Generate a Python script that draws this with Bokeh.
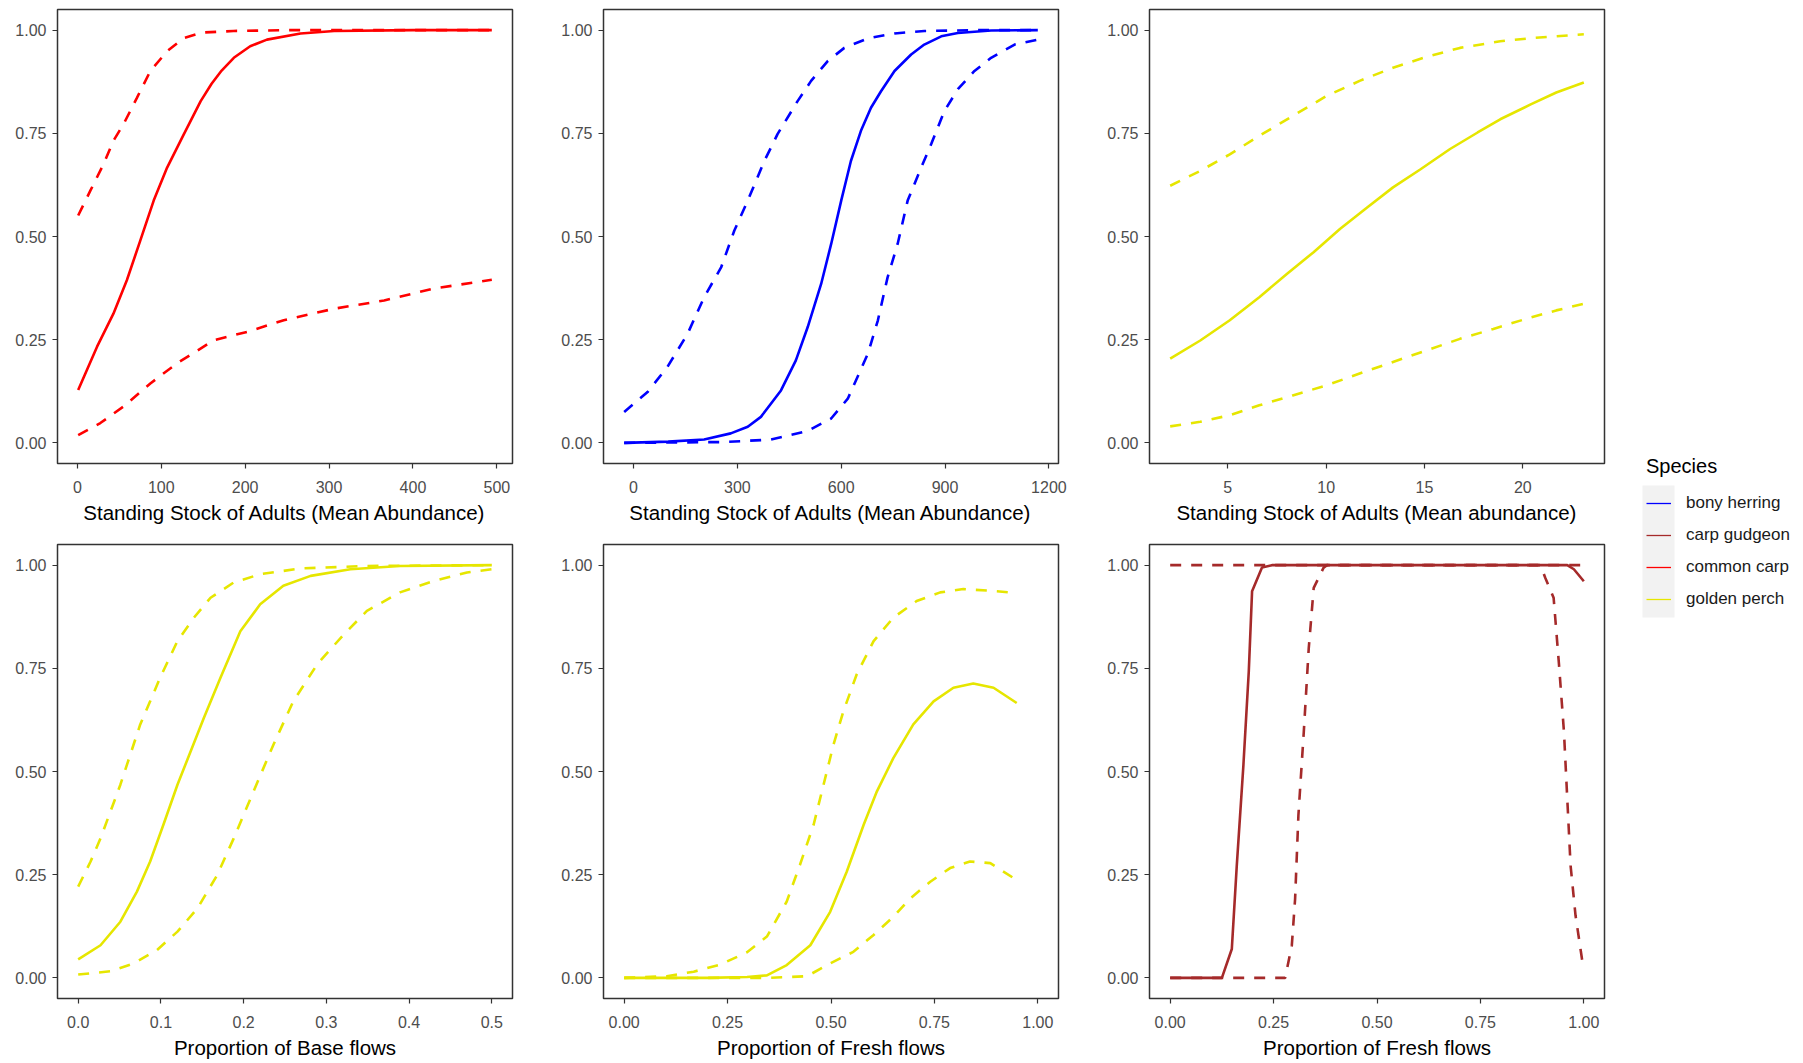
from bokeh.plotting import figure
from bokeh.layouts import row, column
from bokeh.models import (Range1d, FixedTicker, NumeralTickFormatter, Legend,
                          LegendItem, BoxAnnotation)
from bokeh.embed import file_html
from bokeh.resources import INLINE

# ---------------------------------------------------------------------------
# Species and colours
species = ["bony herring", "carp gudgeon", "common carp", "golden perch"]
species_colors = ["#0000FF", "#A52A2A", "#FF0000", "#E6E600"]

# ---------------------------------------------------------------------------
# Common carp vs standing stock of adults (fit, lower and upper bounds)
carp_fit_x = [1, 23.5, 43, 59, 75, 91, 107, 127, 147, 160, 172, 186.5, 206, 226, 266, 306, 400, 494]
carp_fit_y = [0.128, 0.233, 0.313, 0.394, 0.49, 0.587, 0.667, 0.748, 0.828, 0.87, 0.902, 0.933,
              0.961, 0.977, 0.992, 0.998, 1.0, 1.0]
carp_up_x = [1, 15.5, 31.4, 43, 55, 71, 87, 107, 127, 148, 186, 250, 494]
carp_up_y = [0.551, 0.611, 0.676, 0.732, 0.772, 0.836, 0.901, 0.949, 0.981, 0.994, 0.998, 1.0, 1.0]
carp_lo_x = [1, 27.4, 55, 87, 119, 163, 202.5, 246, 306, 365.6, 425, 494]
carp_lo_y = [0.019, 0.048, 0.088, 0.144, 0.193, 0.249, 0.269, 0.297, 0.325, 0.345, 0.374, 0.395]

# Bony herring vs standing stock of adults
herring_fit_x = [-27, 100, 204, 281, 330, 368, 426, 469, 503, 542, 571, 600, 628, 657, 686, 715,
                 754, 802, 840, 889, 937, 1033, 1168]
herring_fit_y = [0, 0.003, 0.008, 0.023, 0.039, 0.063, 0.127, 0.2, 0.28, 0.385, 0.482, 0.587,
                 0.683, 0.756, 0.812, 0.852, 0.901, 0.941, 0.965, 0.985, 0.993, 0.999, 1.0]
herring_up_x = [-27, 40.5, 98, 156, 204, 253, 291, 330, 378, 416, 474, 513, 561, 609, 677, 754,
                840, 1000, 1168]
herring_up_y = [0.075, 0.123, 0.184, 0.264, 0.353, 0.425, 0.514, 0.587, 0.683, 0.748, 0.828,
                0.877, 0.925, 0.957, 0.98, 0.992, 0.998, 1.0, 1.0]
herring_lo_x = [-27, 262, 397, 503, 571, 619, 677, 706, 734, 763, 792, 831, 860, 898, 937, 985,
                1033, 1101, 1168]
herring_lo_y = [0, 0.002, 0.008, 0.029, 0.059, 0.107, 0.216, 0.297, 0.401, 0.482, 0.587, 0.667,
                0.724, 0.804, 0.857, 0.901, 0.933, 0.965, 0.977]

# Golden perch vs standing stock of adults
perch_stock_fit_x = [2.07, 3.6, 5.1, 6.6, 8.0, 9.36, 10.7, 12.1, 13.4, 14.8, 16.3, 17.7, 18.85,
                     20.4, 21.7, 23.1]
perch_stock_fit_y = [0.204, 0.248, 0.297, 0.353, 0.409, 0.462, 0.518, 0.571, 0.619, 0.663, 0.712,
                     0.752, 0.784, 0.82, 0.849, 0.873]
perch_stock_up_x = [2.07, 3.6, 5.1, 6.6, 8.3, 10.0, 11.7, 13.4, 14.95, 16.8, 18.85, 20.5, 23.1]
perch_stock_up_y = [0.623, 0.659, 0.699, 0.744, 0.792, 0.84, 0.877, 0.909, 0.933, 0.957, 0.973,
                    0.981, 0.99]
perch_stock_lo_x = [2.07, 3.6, 5.1, 6.6, 8.3, 10.0, 11.7, 13.4, 15.1, 16.8, 18.5, 20.2, 21.7, 23.1]
perch_stock_lo_y = [0.04, 0.051, 0.067, 0.091, 0.115, 0.139, 0.168, 0.196, 0.224, 0.252, 0.276,
                    0.301, 0.321, 0.337]

# Golden perch vs proportion of base flows
perch_base_fit_x = [0, 0.027, 0.051, 0.071, 0.087, 0.103, 0.12, 0.136, 0.152, 0.172, 0.196, 0.22,
                    0.248, 0.281, 0.329, 0.389, 0.5]
perch_base_fit_y = [0.045, 0.079, 0.136, 0.209, 0.282, 0.371, 0.468, 0.549, 0.63, 0.727, 0.84,
                    0.905, 0.95, 0.974, 0.99, 0.998, 1.0]
perch_base_up_x = [0, 0.015, 0.027, 0.039, 0.051, 0.063, 0.075, 0.087, 0.099, 0.12, 0.14, 0.16,
                   0.188, 0.22, 0.269, 0.349, 0.5]
perch_base_up_y = [0.221, 0.282, 0.338, 0.403, 0.468, 0.541, 0.614, 0.67, 0.727, 0.816, 0.873,
                   0.921, 0.958, 0.978, 0.992, 0.998, 1.0]
perch_base_lo_x = [0, 0.039, 0.067, 0.095, 0.12, 0.144, 0.168, 0.188, 0.212, 0.236, 0.26, 0.289,
                   0.321, 0.349, 0.389, 0.43, 0.47, 0.5]
perch_base_lo_y = [0.008, 0.016, 0.035, 0.067, 0.112, 0.168, 0.249, 0.338, 0.452, 0.565, 0.67,
                   0.76, 0.832, 0.889, 0.934, 0.962, 0.982, 0.99]

# Golden perch vs proportion of fresh flows
perch_fresh_fit_x = [0, 0.1, 0.2, 0.297, 0.345, 0.393, 0.45, 0.498, 0.538, 0.579, 0.611, 0.651,
                     0.699, 0.748, 0.796, 0.844, 0.893, 0.949]
perch_fresh_fit_y = [0, 0, 0, 0.002, 0.006, 0.031, 0.079, 0.16, 0.257, 0.371, 0.452, 0.533, 0.614,
                     0.67, 0.703, 0.713, 0.703, 0.666]
perch_fresh_up_x = [0, 0.103, 0.168, 0.232, 0.297, 0.345, 0.393, 0.425, 0.458, 0.482, 0.506, 0.53,
                    0.562, 0.603, 0.651, 0.707, 0.764, 0.82, 0.885, 0.933]
perch_fresh_up_y = [0, 0.004, 0.015, 0.032, 0.062, 0.1, 0.185, 0.274, 0.371, 0.468, 0.565, 0.646,
                    0.735, 0.816, 0.873, 0.913, 0.934, 0.942, 0.938, 0.934]
perch_fresh_lo_x = [0, 0.2, 0.35, 0.442, 0.498, 0.554, 0.603, 0.651, 0.691, 0.74, 0.788, 0.836,
                    0.885, 0.949]
perch_fresh_lo_y = [0, 0, 0, 0.004, 0.035, 0.063, 0.104, 0.148, 0.192, 0.233, 0.266, 0.282, 0.278,
                    0.237]

# Carp gudgeon vs proportion of fresh flows
gudgeon_fit_x = [0, 0.125, 0.149, 0.161, 0.177, 0.19, 0.198, 0.222, 0.246, 0.5, 0.96, 0.976, 1.0]
gudgeon_fit_y = [0, 0, 0.07, 0.272, 0.515, 0.742, 0.937, 0.994, 1.0, 1.0, 1.0, 0.99, 0.961]
gudgeon_up_x = [0, 0.25, 0.5, 0.75, 1.0]
gudgeon_up_y = [1.0, 1.0, 1.0, 1.0, 1.0]
gudgeon_lo_x = [0, 0.278, 0.294, 0.302, 0.31, 0.323, 0.335, 0.347, 0.371, 0.379, 0.6, 0.895,
                0.907, 0.927, 0.94, 0.952, 0.96, 0.968, 0.98, 0.992, 0.998]
gudgeon_lo_y = [0, 0, 0.078, 0.191, 0.394, 0.596, 0.799, 0.945, 0.994, 1.0, 1.0, 1.0, 0.969,
                0.921, 0.759, 0.596, 0.434, 0.272, 0.151, 0.07, 0.029]

# Axis ticks
y_ticks = [0, 0.25, 0.5, 0.75, 1.0]
stock_carp_ticks = [0, 100, 200, 300, 400, 500]
stock_herring_ticks = [0, 300, 600, 900, 1200]
stock_perch_ticks = [5, 10, 15, 20]
base_ticks = [0, 0.1, 0.2, 0.3, 0.4, 0.5]
fresh_ticks = [0, 0.25, 0.5, 0.75, 1.0]

FONT = "Liberation Sans"
COL = dict(zip(species, species_colors))
LW = 2.6


def expand(xs):
    lo, hi = min(xs), max(xs)
    pad = 0.05 * (hi - lo)
    return lo - pad, hi + pad


def panel(xlabel, ticks, fmt, color, fit, up, lo, xlim=None, bottom=72):
    all_x = fit[0] + up[0] + lo[0]
    x0, x1 = xlim if xlim else expand(all_x)
    p = figure(frame_width=455, frame_height=454,
               x_range=Range1d(x0, x1), y_range=Range1d(-0.05, 1.05),
               min_border_left=57, min_border_right=34,
               min_border_top=9, min_border_bottom=bottom,
               output_backend="svg", toolbar_location=None)
    p.grid.visible = False
    p.outline_line_color = "#333333"
    p.outline_line_width = 1.5
    p.outline_line_alpha = 1.0
    p.background_fill_color = "white"
    p.border_fill_color = "white"

    p.xaxis.ticker = FixedTicker(ticks=ticks)
    p.yaxis.ticker = FixedTicker(ticks=y_ticks)
    p.xaxis.formatter = NumeralTickFormatter(format=fmt)
    p.yaxis.formatter = NumeralTickFormatter(format="0.00")
    for ax in p.axis:
        ax.axis_line_color = None
        ax.major_tick_line_color = "#333333"
        ax.major_tick_line_width = 1.2
        ax.major_tick_out = 5
        ax.major_tick_in = 0
        ax.minor_tick_line_color = None
        ax.major_label_text_font = FONT
        ax.major_label_text_font_size = "16px"
        ax.major_label_text_color = "#4D4D4D"
    p.xaxis.major_label_standoff = 12
    p.yaxis.major_label_standoff = 6
    p.xaxis.axis_label = xlabel
    p.xaxis.axis_label_text_font = FONT
    p.xaxis.axis_label_text_font_size = "20.5px"
    p.xaxis.axis_label_text_font_style = "normal"
    p.xaxis.axis_label_text_color = "black"
    p.xaxis.axis_label_standoff = 5

    p.line(fit[0], fit[1], line_color=color, line_width=LW)
    for xs, ys in (up, lo):
        p.line(xs, ys, line_color=color, line_width=LW, line_dash="11 10")
    return p


p1 = panel("Standing Stock of Adults (Mean Abundance)", stock_carp_ticks, "0", COL["common carp"],
           (carp_fit_x, carp_fit_y), (carp_up_x, carp_up_y), (carp_lo_x, carp_lo_y))
p2 = panel("Standing Stock of Adults (Mean Abundance)", stock_herring_ticks, "0", COL["bony herring"],
           (herring_fit_x, herring_fit_y), (herring_up_x, herring_up_y), (herring_lo_x, herring_lo_y))
p3 = panel("Standing Stock of Adults (Mean abundance)", stock_perch_ticks, "0", COL["golden perch"],
           (perch_stock_fit_x, perch_stock_fit_y), (perch_stock_up_x, perch_stock_up_y),
           (perch_stock_lo_x, perch_stock_lo_y))
p4 = panel("Proportion of Base flows", base_ticks, "0.0", COL["golden perch"],
           (perch_base_fit_x, perch_base_fit_y), (perch_base_up_x, perch_base_up_y),
           (perch_base_lo_x, perch_base_lo_y), bottom=65)
p5 = panel("Proportion of Fresh flows", fresh_ticks, "0.00", COL["golden perch"],
           (perch_fresh_fit_x, perch_fresh_fit_y), (perch_fresh_up_x, perch_fresh_up_y),
           (perch_fresh_lo_x, perch_fresh_lo_y), xlim=(-0.05, 1.05), bottom=65)
p6 = panel("Proportion of Fresh flows", fresh_ticks, "0.00", COL["carp gudgeon"],
           (gudgeon_fit_x, gudgeon_fit_y), (gudgeon_up_x, gudgeon_up_y),
           (gudgeon_lo_x, gudgeon_lo_y), xlim=(-0.05, 1.05), bottom=65)

# Shared species legend in its own narrow column (pixel-scaled ranges)
lg = figure(width=165, height=1063, x_range=Range1d(0, 165), y_range=Range1d(1063, 0),
            x_axis_location=None, y_axis_location=None, min_border=0,
            output_backend="svg", toolbar_location=None)
lg.grid.visible = False
lg.outline_line_color = None
lg.add_layout(BoxAnnotation(left=4, right=36, top=485, bottom=617,
                            fill_color="#F2F2F2", fill_alpha=1.0, line_color=None))
key_series = {
    "bony herring": (herring_fit_x, herring_fit_y),
    "carp gudgeon": (gudgeon_fit_x, gudgeon_fit_y),
    "common carp": (carp_fit_x, carp_fit_y),
    "golden perch": (perch_stock_fit_x, perch_stock_fit_y),
}
items = []
for name in species:
    xs, ys = key_series[name]
    # hidden proxy renderer: only its line style is used by the legend key
    r = lg.line(x=xs, y=ys, line_color=COL[name], line_width=1.3, visible=False)
    items.append(LegendItem(label=name, renderers=[r]))
legend = Legend(items=items, location=(8, 448), title="Species",
                title_text_font=FONT, title_text_font_size="20px",
                title_text_font_style="normal", title_text_color="black",
                title_standoff=9,
                label_text_font=FONT, label_text_font_size="17px", label_text_color="#1A1A1A",
                glyph_width=25, glyph_height=32, label_height=32, label_standoff=15,
                spacing=0, padding=0, margin=0, click_policy="none",
                border_line_color=None, background_fill_alpha=0)
lg.add_layout(legend)

layout = row(column(row(p1, p2, p3), row(p4, p5, p6)), lg)

with open("out.html", "w") as f:
    f.write(file_html(layout, INLINE, title="Species response curves"))
